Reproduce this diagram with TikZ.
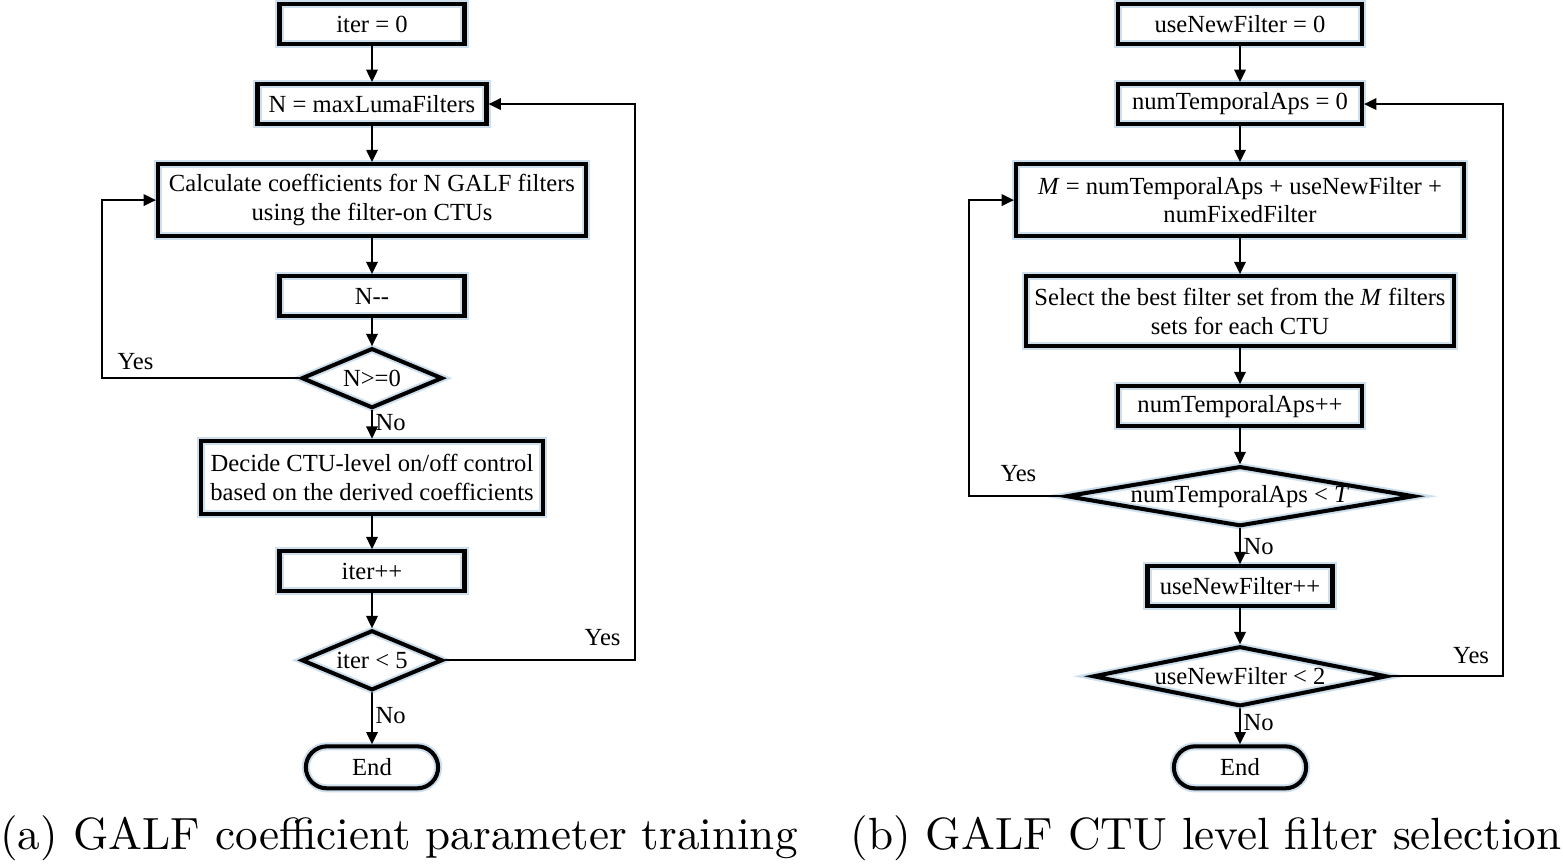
\documentclass[tikz,border=0pt]{standalone}
\usepackage{fontspec}
\newfontfamily\flowfont{Liberation Serif}
\newfontfamily\capfont{lmroman10-regular}[Extension=.otf]
\usetikzlibrary{shapes.geometric,shapes.misc,positioning,arrows.meta}
\definecolor{glow}{RGB}{205,222,236}

\begin{document}
\begin{tikzpicture}[
    font=\flowfont\fontsize{14}{16.5}\selectfont,
    node distance=0.72cm,
    box/.style={rectangle, draw, line width=2.3pt, minimum height=0.8cm, align=center, inner sep=2pt, preaction={draw=glow, line width=4.6pt}},
    decision/.style={diamond, draw, line width=2.3pt, minimum height=1.2cm, inner xsep=-0.4cm, inner ysep=-2pt, preaction={draw=glow, line width=4.6pt}},
    term/.style={rounded rectangle, draw, line width=2.3pt, minimum width=2.88cm, minimum height=0.84cm, preaction={draw=glow, line width=4.6pt}},
    arrow/.style={-{Triangle[length=7pt,width=6.5pt]}, line width=1.1pt},
    lbl/.style={inner sep=1.5pt},
    subcap/.style={font=\capfont\fontsize{25.7}{30}\selectfont},
]
\useasboundingbox (0,0) rectangle (31.26,-17.32);

% (a) coefficient training
\node[box, minimum width=3.7cm] (iterinit) at (7.44,-0.48) {iter = 0};
\node[box, minimum width=4.58cm, below=of iterinit] (nset) {N = maxLumaFilters};
\node[box, minimum width=8.56cm, minimum height=1.44cm, below=of nset] (calc) {Calculate coefficients for N GALF filters\\using the filter-on CTUs};
\node[box, minimum width=3.7cm, below=of calc] (ndec) {N-{}-};
\node[decision, aspect=2.43, minimum width=2.82cm, below=0.56cm of ndec] (ngeq) {N>=0};
\node[box, minimum width=6.84cm, minimum height=1.46cm, below=0.57cm of ngeq] (ctrl) {Decide CTU-level on/off control\\based on the derived coefficients};
\node[box, minimum width=3.7cm, below=0.67cm of ctrl] (iterinc) {iter++};
\node[decision, aspect=2.43, minimum width=2.82cm, below=0.7cm of iterinc] (iterchk) {iter < 5};
\node[term, below=1.04cm of iterchk] (enda) {End};

\draw[arrow] (iterinit) -- (nset);
\draw[arrow] (nset) -- (calc);
\draw[arrow] (calc) -- (ndec);
\draw[arrow] (ndec) -- (ngeq);
\draw[arrow] (ngeq) -- node[lbl, right, pos=0.45] {No} (ctrl);
\draw[arrow] (ctrl) -- (iterinc);
\draw[arrow] (iterinc) -- (iterchk);
\draw[arrow] (iterchk) -- node[lbl, right, pos=0.45] {No} (enda);

% feedback loops (a)
\coordinate (loopa) at (2.04,0);
\coordinate (loopb) at (12.7,0);
\draw[arrow] (ngeq.west) -- node[lbl, above=2.5pt, pos=0.83] {Yes} (ngeq.west -| loopa) |- (calc.west);
\draw[arrow] (iterchk.east) -- node[lbl, above=6pt, pos=0.83] {Yes} (iterchk.east -| loopb) |- (nset.east);

% (b) CTU level selection
\node[box, minimum width=4.88cm] (flaginit) at (24.8,-0.48) {useNewFilter = 0};
\node[box, minimum width=4.88cm, below=of flaginit] (tinit) {numTemporalAps = 0};
\node[box, minimum width=8.96cm, minimum height=1.44cm, below=of tinit] (mset) {\textit{M} = numTemporalAps + useNewFilter +\\numFixedFilter};
\node[box, minimum width=8.56cm, minimum height=1.4cm, below=of mset] (select) {Select the best filter set from the \textit{M} filters\\sets for each CTU};
\node[box, minimum width=4.88cm, below=of select] (tinc) {numTemporalAps++};
\node[decision, aspect=6.17, minimum width=6.96cm, below=of tinc] (tchk) {numTemporalAps < \textit{T}};
\node[box, minimum width=3.7cm, below=of tchk] (flaginc) {useNewFilter++};
\node[decision, aspect=5.1, minimum width=5.88cm, below=of flaginc] (flagchk) {useNewFilter < 2};
\node[term, below=of flagchk] (endb) {End};

\draw[arrow] (flaginit) -- (tinit);
\draw[arrow] (tinit) -- (mset);
\draw[arrow] (mset) -- (select);
\draw[arrow] (select) -- (tinc);
\draw[arrow] (tinc) -- (tchk);
\draw[arrow] (tchk) -- node[lbl, right, pos=0.5] {No} (flaginc);
\draw[arrow] (flaginc) -- (flagchk);
\draw[arrow] (flagchk) -- node[lbl, right, pos=0.4] {No} (endb);

% feedback loops (b)
\coordinate (loopc) at (19.38,0);
\coordinate (loopd) at (30.06,0);
\draw[arrow] (tchk.west) -- node[lbl, above=6pt, pos=0.48] {Yes} (tchk.west -| loopc) |- (mset.west);
\draw[arrow] (flagchk.east) -- node[lbl, above=5pt, pos=0.72] {Yes} (flagchk.east -| loopd) |- (tinit.east);

% captions
\node[subcap] (capa) at (7.98,-16.76) {(a) GALF coefficient parameter training};
\node[subcap] (capb) at (24.12,-16.76) {(b) GALF CTU level filter selection};

\end{tikzpicture}
\end{document}
